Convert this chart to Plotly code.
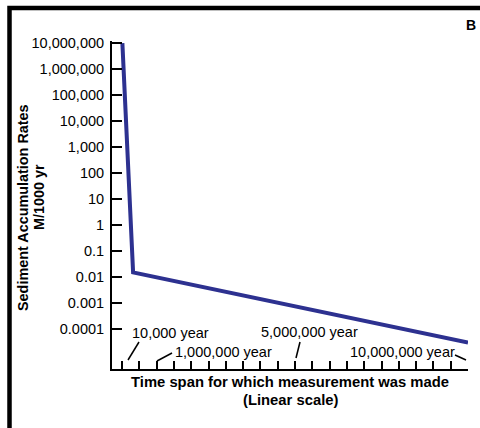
import plotly.graph_objects as go

# Sediment accumulation rate versus the time span of measurement
time_span_years = [10000, 320000, 10000000]
accumulation_rate = [1e7, 0.015, 3e-5]

rate_tick_values = [1e7, 1e6, 1e5, 1e4, 1e3, 1e2, 10, 1, 0.1, 0.01, 0.001, 0.0001]
rate_tick_labels = ["10,000,000", "1,000,000", "100,000", "10,000", "1,000", "100",
                    "10", "1", "0.1", "0.01", "0.001", "0.0001"]
span_tick_values = [0, 10000] + [500000 * k for k in range(1, 21)]

W, H = 480, 428
L, R, T, B = 112, 12, 41, 59
FONT = "Liberation Sans, Arial, Helvetica, sans-serif"
LINE_COLOR = "#2d3190"


def px_x(px):
    return (px - L) / (W - L - R)


def px_y(py):
    return (H - B - py) / (H - T - B)


fig = go.Figure()
fig.add_trace(go.Scatter(
    x=time_span_years, y=accumulation_rate, mode="lines",
    line=dict(color=LINE_COLOR, width=4), hoverinfo="skip", showlegend=False,
))

fig.update_layout(
    width=W, height=H,
    margin=dict(l=L, r=R, t=T, b=B, pad=0),
    paper_bgcolor="white", plot_bgcolor="white",
    font=dict(family=FONT, color="black", size=14.5),
    xaxis=dict(
        range=[-290000, 10000000], showgrid=False, zeroline=False,
        showline=True, linecolor="black", linewidth=2,
        ticks="inside", ticklen=8, tickwidth=1.7, tickcolor="black",
        tickvals=span_tick_values, showticklabels=False,
    ),
    yaxis=dict(
        type="log", range=[-5.54, 7.08], showgrid=False, zeroline=False,
        showline=True, linecolor="black", linewidth=2,
        ticks="inside", ticklen=10, tickwidth=2, tickcolor="black",
        tickvals=rate_tick_values, ticktext=rate_tick_labels,
        tickfont=dict(size=14.5), ticklabelstandoff=3,
    ),
)

# outer frame
fig.add_shape(type="rect", xref="paper", yref="paper",
              x0=px_x(9.5), x1=px_x(520), y0=px_y(8), y1=px_y(470),
              line=dict(color="black", width=4.5), layer="above")

annotations = [
    dict(text="<b>B</b>", x=px_x(470.5), y=px_y(24.5), size=14, xanchor="center"),
    dict(text="10,000 year", x=px_x(130), y=px_y(333), size=14.5, xanchor="left"),
    dict(text="1,000,000 year", x=px_x(173), y=px_y(352), size=14.5, xanchor="left"),
    dict(text="5,000,000 year", x=px_x(259), y=px_y(332), size=14.5, xanchor="left"),
    dict(text="10,000,000 year", x=px_x(348), y=px_y(352), size=14.5, xanchor="left"),
    dict(text="<b>Time span for which measurement was made</b>", x=px_x(290), y=px_y(382),
         size=14.8, xanchor="center"),
    dict(text="<b>(Linear scale)</b>", x=px_x(290), y=px_y(400), size=14.8, xanchor="center"),
]
for a in annotations:
    fig.add_annotation(text=a["text"], xref="paper", yref="paper", x=a["x"], y=a["y"],
                       xanchor=a["xanchor"], yanchor="middle", showarrow=False,
                       font=dict(family=FONT, size=a["size"], color="black"))

for text, cx, cy in [("<b>Sediment Accumulation Rates</b>", 23, 208),
                     ("<b>M/1000 yr</b>", 39, 197)]:
    fig.add_annotation(text=text, xref="paper", yref="paper", x=px_x(cx), y=px_y(cy),
                       xanchor="center", yanchor="middle", textangle=-90, showarrow=False,
                       font=dict(family=FONT, size=14.4, color="black"))

# leader lines from labels to their ticks
for x0, y0, x1, y1 in [(128, 360, 139, 342), (157, 361, 172, 353),
                       (296, 358, 300, 342), (455, 355, 466, 360)]:
    fig.add_shape(type="line", xref="paper", yref="paper",
                  x0=px_x(x0), y0=px_y(y0), x1=px_x(x1), y1=px_y(y1),
                  line=dict(color="black", width=1.5))

fig.write_html("out.html")
